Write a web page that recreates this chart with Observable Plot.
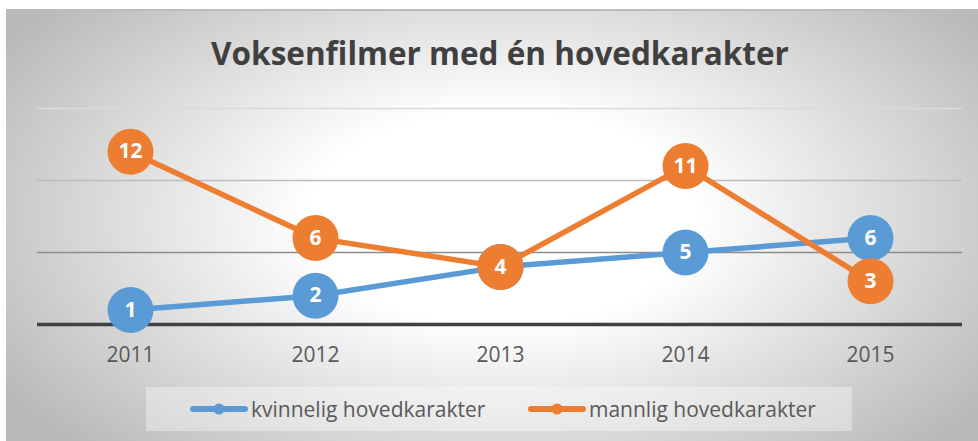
<!DOCTYPE html>
<html>
<head>
<meta charset="utf-8">
<script src="https://cdn.jsdelivr.net/npm/d3@7"></script>
<script src="https://cdn.jsdelivr.net/npm/@observablehq/plot@0.6"></script>
<style>
  html, body { margin: 0; padding: 0; background: #fff; width: 978px; height: 441px; overflow: hidden; }
  #frame {
    position: absolute; left: 6px; top: 9px; width: 972px; height: 432px;
    box-sizing: border-box; border-top: 2px solid #bcbcbc;
    background: radial-gradient(ellipse 60% 75% at 51% 48%, #ffffff 33%, #bababa 100%);
  }
  #title {
    position: absolute; left: 500px; top: 37px; transform: translateX(-50%);
    font-family: "Open Sans", sans-serif; font-weight: 700; font-size: 31.5px; line-height: 31px;
    color: #404040; white-space: nowrap;
  }
  #chart { position: absolute; left: 0; top: 80px; }
  #legend {
    position: absolute; left: 146px; top: 387px; width: 706px; height: 44px;
    background: rgba(255,255,255,0.35);
    font-family: "Open Sans", sans-serif; font-size: 21px; color: #595959;
  }
  .item { position: absolute; top: 0; height: 44px; display: flex; align-items: center; white-space: nowrap; }
  .item svg { margin-right: 3px; }
</style>
</head>
<body>
<div id="frame"></div>
<div id="title">Voksenfilmer med én hovedkarakter</div>
<div id="chart"></div>
<div id="legend"></div>
<script>
const years = ["2011", "2012", "2013", "2014", "2015"];
const kvinnelig = [1, 2, 4, 5, 6];
const mannlig = [12, 6, 4, 11, 3];
const seriesNames = ["kvinnelig hovedkarakter", "mannlig hovedkarakter"];
const seriesColors = ["#5B9BD5", "#ED7D31"];
const gridValues = [5, 10, 15];
const gridColors = ["#8c8c8c", "#bdbdbd", "#dadada"];

const blue = years.map((y, i) => ({year: y, value: kvinnelig[i]}));
const orange = years.map((y, i) => ({year: y, value: mannlig[i]}));
const grid = gridValues.map((v, i) => ({v, c: gridColors[i]}));

function seriesMarks(data, color) {
  return [
    Plot.line(data, {x: "year", y: "value", stroke: color, strokeWidth: 5.5}),
    Plot.dot(data, {x: "year", y: "value", r: 23, fill: color, stroke: "none"}),
    Plot.text(data, {x: "year", y: "value", text: d => String(d.value), fill: "#fff",
      fontWeight: "bold", fontSize: 21, fontFamily: "Open Sans"})
  ];
}

const chart = Plot.plot({
  width: 978,
  height: 300,
  marginTop: 28,
  marginBottom: 56,
  marginLeft: 37,
  marginRight: 16,
  style: {background: "transparent", fontFamily: "Open Sans"},
  x: {type: "point", domain: years, padding: 0.5, label: null},
  y: {domain: [0, 15], axis: null},
  marks: [
    Plot.ruleY(grid, {y: "v", stroke: "c", strokeWidth: 1.5}),
    Plot.ruleY([0], {stroke: "#404040", strokeWidth: 3.5}),
    Plot.axisX({tickSize: 0, tickPadding: 23, fontSize: 21, fill: "#595959", label: null}),
    ...seriesMarks(blue, seriesColors[0]),
    ...seriesMarks(orange, seriesColors[1])
  ]
});
document.getElementById("chart").appendChild(chart);

const legend = document.getElementById("legend");
const itemLefts = [44, 382];
seriesNames.forEach((name, i) => {
  const item = document.createElement("div");
  item.className = "item";
  item.style.left = itemLefts[i] + "px";
  const c = seriesColors[i];
  item.innerHTML = `<svg width="58" height="14"><line x1="3" y1="7" x2="55" y2="7" stroke="${c}" stroke-width="6" stroke-linecap="round"/><circle cx="29" cy="7" r="5.5" fill="${c}"/></svg><span>${name}</span>`;
  legend.appendChild(item);
});
</script>
</body>
</html>
